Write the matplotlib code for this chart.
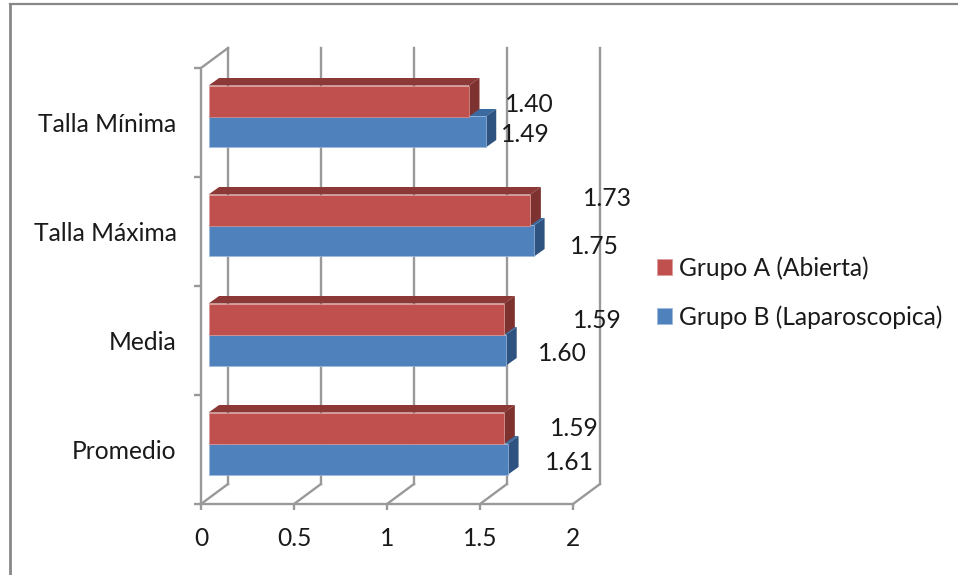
import matplotlib
matplotlib.use("Agg")
import matplotlib.pyplot as plt
from matplotlib.lines import Line2D
from matplotlib.patches import Patch, Polygon

plt.rcParams['font.family'] = ['Lato', 'DejaVu Sans']

categories = ['Promedio', 'Media', 'Talla Máxima', 'Talla Mínima']
grupo_a = [1.59, 1.59, 1.73, 1.40]
grupo_b = [1.61, 1.60, 1.75, 1.49]
x_ticks = [0, 0.5, 1, 1.5, 2]
x_tick_labels = ['0', '0.5', '1', '1.5', '2']
label_a = 'Grupo A (Abierta)'
label_b = 'Grupo B (Laparoscopica)'

W, H = 958, 575
L_PX, R_PX, B_PX, T_PX = 201, 573, 504, 68
PX_X = (R_PX - L_PX) / 2
PX_Y = (B_PX - T_PX) / 4

# 3D construction, in pixels
WALL_DX, WALL_DY = 27 / PX_X, 20 / PX_Y
BAR_DX, BAR_DY = 7.6 / PX_X, 6 / PX_Y
FACE_DX, FACE_DY = 10.5 / PX_X, 7.5 / PX_Y
BAR_H = 31 / PX_Y

GRID = '#999999'
TXT = '#1a1a1a'
FS = 17.7
LW = 1.7

fig = plt.figure(figsize=(W / 100, H / 100), dpi=100)
ax = fig.add_axes([L_PX / W, 1 - B_PX / H, (R_PX - L_PX) / W, (B_PX - T_PX) / H])
ax.set_xlim(0, 2)
ax.set_ylim(0, 4)
ax.patch.set_alpha(0)
for s in ('top', 'right'):
    ax.spines[s].set_visible(False)
for s in ('left', 'bottom'):
    ax.spines[s].set_color(GRID)
    ax.spines[s].set_linewidth(LW)

ax.set_xticks(x_ticks)
ax.set_xticklabels(x_tick_labels, fontsize=FS, color=TXT)
ax.tick_params(axis='x', length=4.5, width=LW, color=GRID, pad=12)
ax.set_yticks(range(5))
ax.set_yticklabels([])
ax.tick_params(axis='y', which='major', length=5, width=LW, color=GRID)
ax.set_yticks([i + 0.5 for i in range(len(categories))], minor=True)
ax.set_yticklabels(categories, minor=True, fontsize=FS, color=TXT)
ax.tick_params(axis='y', which='minor', length=0, pad=17.5)

# back wall and floor
for xv in x_ticks:
    ax.plot([xv, xv + WALL_DX], [0, WALL_DY], color=GRID, lw=LW, clip_on=False, zorder=1)
    ax.plot([xv + WALL_DX] * 2, [WALL_DY, 4 + WALL_DY], color=GRID, lw=LW, clip_on=False, zorder=1)
ax.plot([0, WALL_DX], [4, 4 + WALL_DY], color=GRID, lw=LW, clip_on=False, zorder=1)


def bar3d(y0, value, front, edge, top, side, z):
    x0 = BAR_DX
    x1 = BAR_DX + value
    y1 = y0 + BAR_H
    ax.add_patch(Polygon([(x0, y1), (x0 + FACE_DX, y1 + FACE_DY), (x1 + FACE_DX, y1 + FACE_DY), (x1, y1)],
                         facecolor=top, edgecolor='none', clip_on=False, zorder=z))
    ax.add_patch(Polygon([(x1, y0), (x1 + FACE_DX, y0 + FACE_DY), (x1 + FACE_DX, y1 + FACE_DY), (x1, y1)],
                         facecolor=side, edgecolor='none', clip_on=False, zorder=z))
    ax.barh(y0, value, height=BAR_H, left=x0, align='edge', color=front, edgecolor=edge,
            linewidth=0.5, clip_on=False, zorder=z + 0.1)


for i, (a, b) in enumerate(zip(grupo_a, grupo_b)):
    centre = i + 0.5 + BAR_DY
    bar3d(centre - BAR_H, b, '#4F81BD', '#9DB9DC', '#3A6A9F', '#2F5380', 2)
    bar3d(centre, a, '#C0504D', '#D89A98', '#8C3836', '#7E3230', 3)

# manual data label placement, pixels from the bar end
offset_a = [70, 93, 77, 60]
offset_b = [61, 56, 60, 40]
lift_a = [-1, -1, 11, -4]
lift_b = [-4, -4, -6, -3]
for i in range(len(categories)):
    centre = i + 0.5 + BAR_DY
    ax.annotate(f'{grupo_a[i]:.2f}', (BAR_DX + grupo_a[i], centre + BAR_H / 2),
                xytext=(offset_a[i], lift_a[i]), textcoords='offset pixels',
                ha='center', va='center', fontsize=FS, color=TXT, zorder=5)
    ax.annotate(f'{grupo_b[i]:.2f}', (BAR_DX + grupo_b[i], centre - BAR_H / 2),
                xytext=(offset_b[i], lift_b[i]), textcoords='offset pixels',
                ha='center', va='center', fontsize=FS, color=TXT, zorder=5)

handles = [Patch(facecolor='#C0504D', edgecolor='#D89A98', linewidth=0.5, label=label_a),
           Patch(facecolor='#4F81BD', edgecolor='#9DB9DC', linewidth=0.5, label=label_b)]
fig.legend(handles=handles, loc='center left', bbox_to_anchor=(656.5 / W, 1 - 292.5 / H),
           frameon=False, fontsize=FS, labelcolor=TXT, handlelength=0.63, handleheight=0.63,
           handletextpad=0.27, labelspacing=1.04, borderpad=0, borderaxespad=0)

# picture frame
fig.add_artist(Line2D([9.5 / W, 1], [1 - 4 / H, 1 - 4 / H], color='#888888', lw=1.6))
fig.add_artist(Line2D([9.5 / W, 9.5 / W], [0, 1 - 4 / H], color='#888888', lw=2.0))

fig.savefig('out.png', dpi=100)
